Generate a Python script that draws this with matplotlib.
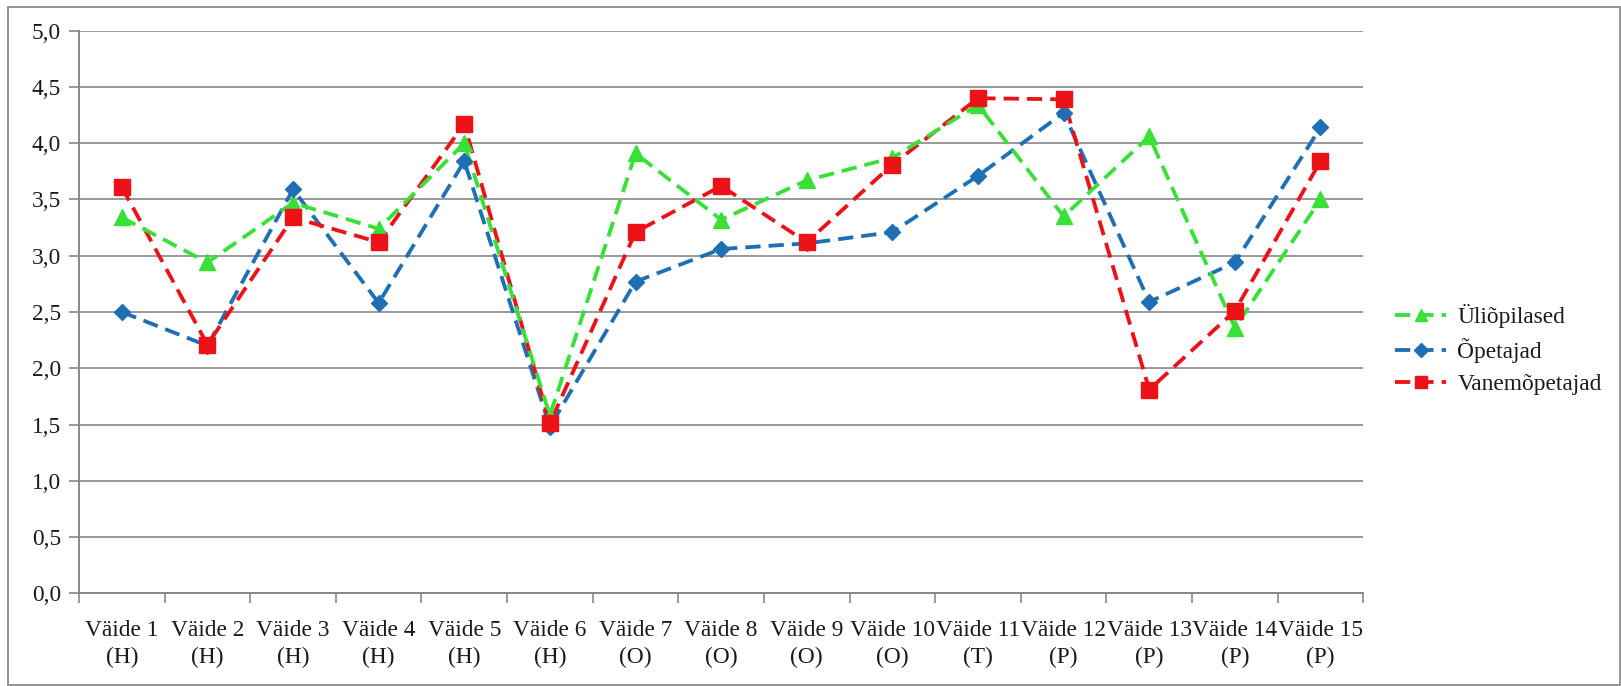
import matplotlib
matplotlib.use("Agg")
import matplotlib.pyplot as plt
from matplotlib.patches import Rectangle
import numpy as np

# Survey statements and group means
categories = ["Väide 1\n(H)", "Väide 2\n(H)", "Väide 3\n(H)", "Väide 4\n(H)", "Väide 5\n(H)",
              "Väide 6\n(H)", "Väide 7\n(O)", "Väide 8\n(O)", "Väide 9\n(O)", "Väide 10\n(O)",
              "Väide 11\n(T)", "Väide 12\n(P)", "Väide 13\n(P)", "Väide 14\n(P)", "Väide 15\n(P)"]

yliopilased = [3.34, 2.94, 3.47, 3.24, 4.00, 1.58, 3.91, 3.32, 3.67, 3.87, 4.34, 3.35, 4.06, 2.36, 3.50]
opetajad = [2.50, 2.20, 3.59, 2.58, 3.84, 1.48, 2.77, 3.06, 3.11, 3.21, 3.71, 4.27, 2.59, 2.94, 4.14]
vanemopetajad = [3.61, 2.21, 3.34, 3.12, 4.17, 1.51, 3.21, 3.62, 3.12, 3.81, 4.40, 4.39, 1.81, 2.51, 3.84]

series_names = ["Üliõpilased", "Õpetajad", "Vanemõpetajad"]

plt.rcParams["font.family"] = "serif"
plt.rcParams["font.serif"] = ["Liberation Serif", "DejaVu Serif"]

W, H = 1621, 686
fig = plt.figure(figsize=(W / 100, H / 100), dpi=100)
fig.patch.set_facecolor("white")

# plot area in pixels: left 79, right 1363, top 30.7, bottom (0-line) 593.3
L, R, T, B = 79, 1363.3, 30.7, 593.3
ax = fig.add_axes([L / W, (H - B) / H, (R - L) / W, (B - T) / H])

x = np.arange(len(categories)) + 0.5
grid_col = "#878787"
text_col = "#1a1a1a"
fs = 16.8

green = "#38e038"
blue = "#1f6fb4"
red = "#ec1218"
dash = (0, (4.0, 2.1))
lw = 2.75

# lines
ax.plot(x, opetajad, color=blue, lw=lw, ls=dash, zorder=3)
ax.plot(x, vanemopetajad, color=red, lw=lw, ls=dash, zorder=4)
ax.plot(x, yliopilased, color=green, lw=lw, ls=dash, zorder=5)
# markers
ax.plot(x, yliopilased, ls="none", marker="^", ms=12, color=green, zorder=6)
ax.plot(x, opetajad, ls="none", marker="D", ms=8.5, color=blue, zorder=7)
ax.plot(x, vanemopetajad, ls="none", marker="s", ms=11.5, color=red, zorder=8)

ax.set_xlim(0, len(categories))
ax.set_ylim(0, 5)

ax.set_yticks(np.arange(0, 5.01, 0.5))
ax.set_yticklabels([f"{v:.1f}".replace(".", ",") for v in np.arange(0, 5.01, 0.5)])
ax.yaxis.grid(True, color=grid_col, lw=1.2)
ax.set_axisbelow(True)

ax.set_xticks(np.arange(0, len(categories) + 1))
ax.set_xticklabels([])
ax.set_xticks(x, minor=True)
ax.set_xticklabels(categories, minor=True, linespacing=1.4)
ax.tick_params(axis="x", which="minor", length=0, pad=19, labelsize=fs, labelcolor=text_col)
ax.tick_params(axis="x", which="major", length=7, width=1.2, color=grid_col, direction="out")
ax.tick_params(axis="y", length=7, width=1.2, color=grid_col, direction="out", pad=6,
               labelsize=fs, labelcolor=text_col)

for s in ["top", "right"]:
    ax.spines[s].set_visible(False)
for s in ["left", "bottom"]:
    ax.spines[s].set_color(grid_col)
    ax.spines[s].set_linewidth(1.4)

handles = [
    plt.Line2D([], [], color=green, lw=lw, ls=dash, marker="^", ms=9),
    plt.Line2D([], [], color=blue, lw=lw, ls=dash, marker="D", ms=7),
    plt.Line2D([], [], color=red, lw=lw, ls=dash, marker="s", ms=9),
]
fig.legend(handles, series_names, loc="center left",
           bbox_to_anchor=(1395 / W, (H - 349.5) / H), frameon=False,
           borderpad=0, borderaxespad=0, handlelength=2.2, handletextpad=0.47,
           labelspacing=0.45, fontsize=fs, numpoints=1, labelcolor=text_col)

# outer chart frame
fig.patches.append(Rectangle((7.5 / W, 1.5 / H), (1619.5 - 7.5) / W, (684.5 - 7) / H,
                             transform=fig.transFigure, fill=False,
                             edgecolor="#8a8a8a", lw=1.3, zorder=0))

fig.savefig("out.png", dpi=100)
